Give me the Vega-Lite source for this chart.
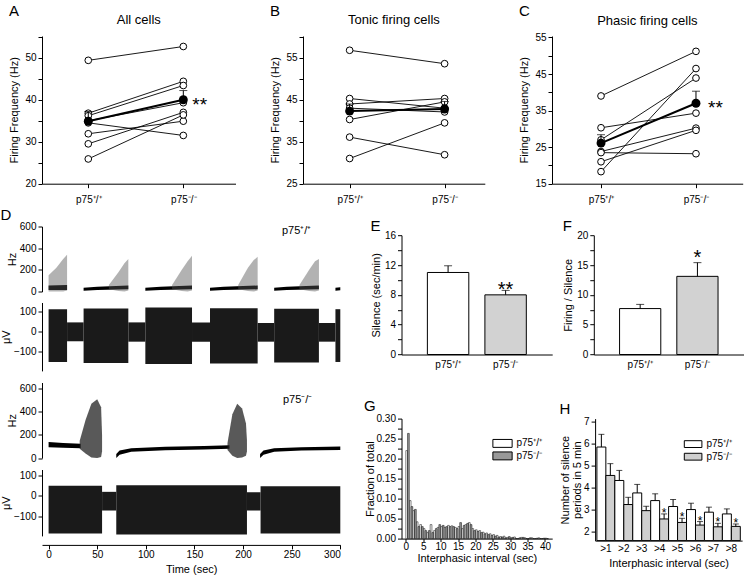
{
"$schema":"https://vega.github.io/schema/vega-lite/v6.json",
"background":"white",
"padding":{"left":0,"top":3,"right":0,"bottom":0},
"config":{
 "font":"Liberation Sans",
 "view":{"stroke":null},
 "axis":{"grid":false,"domainColor":"black","tickColor":"black","labelColor":"black","titleColor":"black","labelFontSize":10,"titleFontSize":11,"titleFontWeight":"normal","labelFontWeight":"normal","tickSize":4,"labelPadding":2,"titlePadding":5,"labelFont":"Liberation Sans","titleFont":"Liberation Sans","labelOverlap":false,"labelSeparation":0},
 "title":{"fontWeight":"normal","color":"black","font":"Liberation Sans"},
 "legend":{"labelFont":"Liberation Sans","labelColor":"black"},
 "text":{"font":"Liberation Sans","color":"black"}
},
"spacing":2.5,
"resolve":{"scale":{"fill":"independent"},"legend":{"fill":"independent"}},
"vconcat":[
{"spacing":33,"hconcat":[
 {"title":{"text":"A","anchor":"start","fontSize":15,"offset":-4.2},
  "vconcat":[{
   "title":{"text":"All cells","anchor":"middle","frame":"group","fontSize":13,"offset":4.5},
   "width":193.5,"height":147.7,
   "encoding":{"x":{"field":"g","type":"nominal","scale":{"type":"point","domain":["p75⁺/⁺","p75⁻/⁻"],"padding":0.518,"align":0.47},"axis":{"title":null,"labelAngle":0,"labelPadding":7,"labelFontSize":10}}},
   "layer":[
    {"data":{"values":[{"cell":1,"g":"p75⁺/⁺","v":49.4},{"cell":1,"g":"p75⁻/⁻","v":52.7},{"cell":2,"g":"p75⁺/⁺","v":36.8},{"cell":2,"g":"p75⁻/⁻","v":44.4},{"cell":3,"g":"p75⁺/⁺","v":36.2},{"cell":3,"g":"p75⁻/⁻","v":43.4},{"cell":4,"g":"p75⁺/⁺","v":35.0},{"cell":4,"g":"p75⁻/⁻","v":39.3},{"cell":5,"g":"p75⁺/⁺","v":34.5},{"cell":5,"g":"p75⁻/⁻","v":31.5},{"cell":6,"g":"p75⁺/⁺","v":31.9},{"cell":6,"g":"p75⁻/⁻","v":34.9},{"cell":7,"g":"p75⁺/⁺","v":29.5},{"cell":7,"g":"p75⁻/⁻","v":37.0},{"cell":8,"g":"p75⁺/⁺","v":25.9},{"cell":8,"g":"p75⁻/⁻","v":36.4}]},
     "layer":[
      {"mark":{"type":"line","color":"black","strokeWidth":0.9},"encoding":{"y":{"field":"v","type":"quantitative","scale":{"domain":[20,55.2],"nice":false,"zero":false},"axis":{"title":"Firing Frequency (Hz)","values":[20,25,30,35,40,45,50,55],"tickCount":100,"format":"d","labelExpr":"datum.value % 10 === 0 ? datum.label : ''"}},"detail":{"field":"cell"}}},
      {"mark":{"type":"point","shape":"circle","filled":true,"fill":"white","stroke":"black","strokeWidth":1,"size":45,"opacity":1},"encoding":{"y":{"field":"v","type":"quantitative","scale":{"domain":[20,55.2],"nice":false,"zero":false}}}}
     ]},
    {"data":{"values":[{"g":"p75⁺/⁺","v":34.9,"u":37.2,"s":""},{"g":"p75⁻/⁻","v":40.0,"u":42.2,"s":"**"}]},
     "layer":[
      {"mark":{"type":"line","color":"black","strokeWidth":2},"encoding":{"y":{"field":"v","type":"quantitative","scale":{"domain":[20,55.2],"nice":false,"zero":false}}}},
      {"mark":{"type":"rule","color":"black","strokeWidth":1},"encoding":{"y":{"field":"v","type":"quantitative","scale":{"domain":[20,55.2],"nice":false,"zero":false}},"y2":{"field":"u"}}},
      {"mark":{"type":"tick","color":"black","size":8,"thickness":1},"encoding":{"y":{"field":"u","type":"quantitative","scale":{"domain":[20,55.2],"nice":false,"zero":false}}}},
      {"mark":{"type":"point","shape":"circle","filled":true,"color":"black","size":80,"opacity":1},"encoding":{"y":{"field":"v","type":"quantitative","scale":{"domain":[20,55.2],"nice":false,"zero":false}}}},
      {"mark":{"type":"text","align":"left","baseline":"alphabetic","dx":9,"dy":11,"fontSize":19},"encoding":{"y":{"field":"v","type":"quantitative","scale":{"domain":[20,55.2],"nice":false,"zero":false}},"text":{"field":"s"}}}
     ]}
   ]}]},
 {"title":{"text":"B","anchor":"start","fontSize":15,"offset":-4.2},
  "vconcat":[{
   "title":{"text":"Tonic firing cells","anchor":"middle","frame":"group","fontSize":13,"offset":4.5},
   "width":181.8,"height":147.7,
   "encoding":{"x":{"field":"g","type":"nominal","scale":{"type":"point","domain":["p75⁺/⁺","p75⁻/⁻"],"padding":0.457,"align":0.537},"axis":{"title":null,"labelAngle":0,"labelPadding":7,"labelFontSize":10}}},
   "layer":[
    {"data":{"values":[{"cell":1,"g":"p75⁺/⁺","v":56.8},{"cell":1,"g":"p75⁻/⁻","v":53.6},{"cell":2,"g":"p75⁺/⁺","v":45.3},{"cell":2,"g":"p75⁻/⁻","v":43.0},{"cell":3,"g":"p75⁺/⁺","v":44.0},{"cell":3,"g":"p75⁻/⁻","v":45.3},{"cell":4,"g":"p75⁺/⁺","v":43.0},{"cell":4,"g":"p75⁻/⁻","v":42.1},{"cell":5,"g":"p75⁺/⁺","v":40.3},{"cell":5,"g":"p75⁻/⁻","v":44.5},{"cell":6,"g":"p75⁺/⁺","v":36.1},{"cell":6,"g":"p75⁻/⁻","v":31.9},{"cell":7,"g":"p75⁺/⁺","v":31.0},{"cell":7,"g":"p75⁻/⁻","v":39.5}]},
     "layer":[
      {"mark":{"type":"line","color":"black","strokeWidth":0.9},"encoding":{"y":{"field":"v","type":"quantitative","scale":{"domain":[25,60.2],"nice":false,"zero":false},"axis":{"title":"Firing Frequency (Hz)","values":[25,30,35,40,45,50,55,60],"tickCount":100,"format":"d","labelExpr":"(datum.value - 25) % 10 === 0 ? datum.label : ''"}},"detail":{"field":"cell"}}},
      {"mark":{"type":"point","shape":"circle","filled":true,"fill":"white","stroke":"black","strokeWidth":1,"size":45,"opacity":1},"encoding":{"y":{"field":"v","type":"quantitative","scale":{"domain":[25,60.2],"nice":false,"zero":false}}}}
     ]},
    {"data":{"values":[{"g":"p75⁺/⁺","v":42.3,"u":44.0},{"g":"p75⁻/⁻","v":42.8,"u":44.6}]},
     "layer":[
      {"mark":{"type":"line","color":"black","strokeWidth":2},"encoding":{"y":{"field":"v","type":"quantitative","scale":{"domain":[25,60.2],"nice":false,"zero":false}}}},
      {"mark":{"type":"rule","color":"black","strokeWidth":1},"encoding":{"y":{"field":"v","type":"quantitative","scale":{"domain":[25,60.2],"nice":false,"zero":false}},"y2":{"field":"u"}}},
      {"mark":{"type":"tick","color":"black","size":8,"thickness":1},"encoding":{"y":{"field":"u","type":"quantitative","scale":{"domain":[25,60.2],"nice":false,"zero":false}}}},
      {"mark":{"type":"point","shape":"circle","filled":true,"color":"black","size":80,"opacity":1},"encoding":{"y":{"field":"v","type":"quantitative","scale":{"domain":[25,60.2],"nice":false,"zero":false}}}}
     ]}
   ]}]},
 {"title":{"text":"C","anchor":"start","fontSize":15,"offset":-4.2},
  "vconcat":[{
   "title":{"text":"Phasic firing cells","anchor":"middle","frame":"group","fontSize":13,"offset":4.5},
   "width":190.7,"height":147.7,
   "encoding":{"x":{"field":"g","type":"nominal","scale":{"type":"point","domain":["p75⁺/⁺","p75⁻/⁻"],"padding":0.504,"align":0.512},"axis":{"title":null,"labelAngle":0,"labelPadding":7,"labelFontSize":10}}},
   "layer":[
    {"data":{"values":[{"cell":1,"g":"p75⁺/⁺","v":39.0},{"cell":1,"g":"p75⁻/⁻","v":51.2},{"cell":2,"g":"p75⁺/⁺","v":18.3},{"cell":2,"g":"p75⁻/⁻","v":46.5},{"cell":3,"g":"p75⁺/⁺","v":27.0},{"cell":3,"g":"p75⁻/⁻","v":43.9},{"cell":4,"g":"p75⁺/⁺","v":30.3},{"cell":4,"g":"p75⁻/⁻","v":34.3},{"cell":5,"g":"p75⁺/⁺","v":23.8},{"cell":5,"g":"p75⁻/⁻","v":30.2},{"cell":6,"g":"p75⁺/⁺","v":21.0},{"cell":6,"g":"p75⁻/⁻","v":29.6},{"cell":7,"g":"p75⁺/⁺","v":23.5},{"cell":7,"g":"p75⁻/⁻","v":23.2}]},
     "layer":[
      {"mark":{"type":"line","color":"black","strokeWidth":0.9},"encoding":{"y":{"field":"v","type":"quantitative","scale":{"domain":[15,55.4],"nice":false,"zero":false},"axis":{"title":"Firing Frequency (Hz)","values":[15,20,25,30,35,40,45,50,55],"tickCount":100,"format":"d","labelExpr":"(datum.value - 15) % 10 === 0 ? datum.label : ''"}},"detail":{"field":"cell"}}},
      {"mark":{"type":"point","shape":"circle","filled":true,"fill":"white","stroke":"black","strokeWidth":1,"size":45,"opacity":1},"encoding":{"y":{"field":"v","type":"quantitative","scale":{"domain":[15,55.4],"nice":false,"zero":false}}}}
     ]},
    {"data":{"values":[{"g":"p75⁺/⁺","v":26.1,"u":28.4,"s":""},{"g":"p75⁻/⁻","v":37.0,"u":40.3,"s":"**"}]},
     "layer":[
      {"mark":{"type":"line","color":"black","strokeWidth":2},"encoding":{"y":{"field":"v","type":"quantitative","scale":{"domain":[15,55.4],"nice":false,"zero":false}}}},
      {"mark":{"type":"rule","color":"black","strokeWidth":1},"encoding":{"y":{"field":"v","type":"quantitative","scale":{"domain":[15,55.4],"nice":false,"zero":false}},"y2":{"field":"u"}}},
      {"mark":{"type":"tick","color":"black","size":8,"thickness":1},"encoding":{"y":{"field":"u","type":"quantitative","scale":{"domain":[15,55.4],"nice":false,"zero":false}}}},
      {"mark":{"type":"point","shape":"circle","filled":true,"color":"black","size":80,"opacity":1},"encoding":{"y":{"field":"v","type":"quantitative","scale":{"domain":[15,55.4],"nice":false,"zero":false}}}},
      {"mark":{"type":"text","align":"left","baseline":"alphabetic","dx":12,"dy":11,"fontSize":19},"encoding":{"y":{"field":"v","type":"quantitative","scale":{"domain":[15,55.4],"nice":false,"zero":false}},"text":{"field":"s"}}}
     ]}
   ]}]}
]},
{"spacing":22.5,"resolve":{"scale":{"fill":"independent"},"legend":{"fill":"independent"}},"hconcat":[
 {"title":{"text":"D","anchor":"start","fontSize":15,"offset":-1.7},
  "bounds":"flush","spacing":11,
  "vconcat":[
   {"width":298.3,"height":65,
    "layer":[
     {"data":{"values":[{"seg":1,"t":0,"lo":15,"hi":55},{"seg":1,"t":19,"lo":15,"hi":60},{"seg":2,"t":36,"lo":8,"hi":35},{"seg":2,"t":50,"lo":15,"hi":45},{"seg":2,"t":82,"lo":20,"hi":55},{"seg":3,"t":99.5,"lo":8,"hi":35},{"seg":3,"t":115,"lo":15,"hi":45},{"seg":3,"t":147.5,"lo":20,"hi":55},{"seg":4,"t":166,"lo":8,"hi":35},{"seg":4,"t":180,"lo":15,"hi":45},{"seg":4,"t":215,"lo":20,"hi":55},{"seg":5,"t":232,"lo":8,"hi":35},{"seg":5,"t":245,"lo":15,"hi":45},{"seg":5,"t":278,"lo":20,"hi":55},{"seg":6,"t":295,"lo":8,"hi":35},{"seg":6,"t":300,"lo":12,"hi":40}]},
      "mark":{"type":"area","color":"black","opacity":1},
      "encoding":{"x":{"field":"t","type":"quantitative","scale":{"domain":[-6.78,300],"nice":false,"zero":false},"axis":null},"y":{"field":"lo","type":"quantitative","scale":{"domain":[0,600],"nice":false},"axis":{"title":"Hz","values":[0,200,400,600],"tickCount":100,"format":"d","titlePadding":2}},"y2":{"field":"hi"},"detail":{"field":"seg"}}},
     {"data":{"values":[{"seg":1,"t":0,"lo":0,"hi":150},{"seg":1,"t":8,"lo":0,"hi":220},{"seg":1,"t":15,"lo":0,"hi":300},{"seg":1,"t":19,"lo":10,"hi":340},{"seg":2,"t":62,"lo":20,"hi":60},{"seg":2,"t":72,"lo":5,"hi":180},{"seg":2,"t":78,"lo":0,"hi":260},{"seg":2,"t":82,"lo":10,"hi":300},{"seg":3,"t":127,"lo":20,"hi":60},{"seg":3,"t":137,"lo":5,"hi":200},{"seg":3,"t":143,"lo":0,"hi":280},{"seg":3,"t":147.5,"lo":10,"hi":330},{"seg":4,"t":195,"lo":20,"hi":60},{"seg":4,"t":205,"lo":5,"hi":220},{"seg":4,"t":211,"lo":0,"hi":290},{"seg":4,"t":215,"lo":10,"hi":320},{"seg":5,"t":258,"lo":20,"hi":60},{"seg":5,"t":268,"lo":5,"hi":200},{"seg":5,"t":274,"lo":0,"hi":280},{"seg":5,"t":278,"lo":10,"hi":300}]},
      "mark":{"type":"area","color":"#555","opacity":0.45},
      "encoding":{"x":{"field":"t","type":"quantitative","scale":{"domain":[-6.78,300],"nice":false,"zero":false},"axis":null},"y":{"field":"lo","type":"quantitative","scale":{"domain":[0,600],"nice":false}},"y2":{"field":"hi"},"detail":{"field":"seg"}}},
     {"data":{"values":[{"t":240,"lo":557,"label":"p75⁺/⁺"}]},
      "mark":{"type":"text","align":"left","baseline":"middle","fontSize":11},
      "encoding":{"x":{"field":"t","type":"quantitative","scale":{"domain":[-6.78,300],"nice":false,"zero":false},"axis":null},"y":{"field":"lo","type":"quantitative","scale":{"domain":[0,600],"nice":false}},"text":{"field":"label"}}}
    ]},
   {"width":298.3,"height":68.4,
    "data":{"values":[{"t0":0,"t1":19,"lo":-150,"hi":110},{"t0":19,"t1":36,"lo":-48,"hi":45},{"t0":36,"t1":82,"lo":-155,"hi":113},{"t0":82,"t1":99.5,"lo":-50,"hi":45},{"t0":99.5,"t1":147.5,"lo":-160,"hi":118},{"t0":147.5,"t1":166,"lo":-50,"hi":45},{"t0":166,"t1":215,"lo":-158,"hi":115},{"t0":215,"t1":232,"lo":-50,"hi":42},{"t0":232,"t1":278,"lo":-152,"hi":112},{"t0":278,"t1":295,"lo":-50,"hi":42},{"t0":295,"t1":300,"lo":-150,"hi":110}]},
    "mark":{"type":"rect","color":"#1a1a1a"},
    "encoding":{"x":{"field":"t0","type":"quantitative","scale":{"domain":[-6.78,300],"nice":false,"zero":false},"axis":null},"x2":{"field":"t1"},"y":{"field":"lo","type":"quantitative","scale":{"domain":[-194,143],"nice":false,"zero":false},"axis":{"title":"μV","values":[-100,0,100],"tickCount":100,"format":"d","titlePadding":2}},"y2":{"field":"hi"}}},
   {"width":298.3,"height":75.6,
    "layer":[
     {"data":{"values":[{"seg":1,"t":0,"lo":95,"hi":140},{"seg":1,"t":15,"lo":90,"hi":130},{"seg":1,"t":33,"lo":85,"hi":125},{"seg":2,"t":69.6,"lo":0,"hi":35},{"seg":2,"t":73,"lo":30,"hi":65},{"seg":2,"t":85,"lo":55,"hi":85},{"seg":2,"t":120,"lo":68,"hi":98},{"seg":2,"t":160,"lo":75,"hi":105},{"seg":2,"t":186,"lo":80,"hi":112},{"seg":3,"t":217.5,"lo":0,"hi":35},{"seg":3,"t":221,"lo":30,"hi":65},{"seg":3,"t":232,"lo":55,"hi":85},{"seg":3,"t":260,"lo":65,"hi":95},{"seg":3,"t":300,"lo":70,"hi":100}]},
      "mark":{"type":"area","color":"black","opacity":1},
      "encoding":{"x":{"field":"t","type":"quantitative","scale":{"domain":[-6.78,300],"nice":false,"zero":false},"axis":null},"y":{"field":"lo","type":"quantitative","scale":{"domain":[0,654.5],"nice":false},"axis":{"title":"Hz","values":[0,200,400,600],"tickCount":100,"format":"d","titlePadding":2}},"y2":{"field":"hi"},"detail":{"field":"seg"}}},
     {"data":{"values":[{"seg":1,"t":32,"lo":80,"hi":150},{"seg":1,"t":38,"lo":40,"hi":330},{"seg":1,"t":44,"lo":5,"hi":470},{"seg":1,"t":50,"lo":0,"hi":510},{"seg":1,"t":54,"lo":10,"hi":440},{"seg":1,"t":55,"lo":60,"hi":200},{"seg":2,"t":184,"lo":70,"hi":130},{"seg":2,"t":189,"lo":20,"hi":380},{"seg":2,"t":194,"lo":0,"hi":470},{"seg":2,"t":199,"lo":5,"hi":430},{"seg":2,"t":203,"lo":20,"hi":300},{"seg":2,"t":204,"lo":60,"hi":150}]},
      "mark":{"type":"area","color":"#222","opacity":0.75},
      "encoding":{"x":{"field":"t","type":"quantitative","scale":{"domain":[-6.78,300],"nice":false,"zero":false},"axis":null},"y":{"field":"lo","type":"quantitative","scale":{"domain":[0,654.5],"nice":false}},"y2":{"field":"hi"},"detail":{"field":"seg"}}},
     {"data":{"values":[{"t":241,"lo":499,"label":"p75⁻/⁻"}]},
      "mark":{"type":"text","align":"left","baseline":"middle","fontSize":11},
      "encoding":{"x":{"field":"t","type":"quantitative","scale":{"domain":[-6.78,300],"nice":false,"zero":false},"axis":null},"y":{"field":"lo","type":"quantitative","scale":{"domain":[0,654.5],"nice":false}},"text":{"field":"label"}}}
    ]},
   {"width":298.3,"height":66.4,
    "data":{"values":[{"t0":0,"t1":55,"lo":-185,"hi":50},{"t0":55,"t1":69.6,"lo":-72,"hi":20},{"t0":69.6,"t1":204,"lo":-190,"hi":52},{"t0":204,"t1":218,"lo":-72,"hi":18},{"t0":218,"t1":300,"lo":-185,"hi":48}]},
    "mark":{"type":"rect","color":"#1a1a1a"},
    "encoding":{"x":{"field":"t0","type":"quantitative","scale":{"domain":[-6.78,300],"nice":false,"zero":false},"axis":{"title":"Time (sec)","values":[0,50,100,150,200,250,300],"tickCount":100,"format":"d","offset":9,"labelPadding":1,"titlePadding":3.5}},"x2":{"field":"t1"},"y":{"field":"lo","type":"quantitative","scale":{"domain":[-197,130],"nice":false,"zero":false},"axis":{"title":"μV","values":[-100,0,100],"tickCount":100,"format":"d","titlePadding":2}},"y2":{"field":"hi"}}}
  ]},
 {"spacing":-9.3,"resolve":{"scale":{"fill":"independent"},"legend":{"fill":"independent"}},"vconcat":[
  {"width":10,"height":1,"data":{"values":[{"k":1}]},"mark":{"type":"point","opacity":0,"size":0}},
  {"spacing":28.4,"resolve":{"scale":{"fill":"independent"},"legend":{"fill":"independent"}},"vconcat":[
  {"bounds":"flush","spacing":41.3,"resolve":{"scale":{"fill":"independent"},"legend":{"fill":"independent"}},"hconcat":[
   {"title":{"text":"E","anchor":"start","fontSize":15,"offset":-3.3},
    "width":150.7,"height":119.3,
    "data":{"values":[{"g":"p75⁺/⁺","v":11.0,"u":11.9,"s":""},{"g":"p75⁻/⁻","v":8.0,"u":8.6,"s":"**"}]},
    "encoding":{"x":{"field":"g","type":"nominal","scale":{"domain":["p75⁺/⁺","p75⁻/⁻"],"paddingInner":0.28,"paddingOuter":0.45},"axis":{"title":null,"labelAngle":0,"ticks":false,"tickSize":0,"labelPadding":5,"labelFontSize":10}}},
    "layer":[
     {"mark":{"type":"bar","stroke":"black","strokeWidth":1},"encoding":{"y":{"field":"v","type":"quantitative","scale":{"domain":[0,16],"nice":false},"axis":{"title":"Silence (sec/min)","values":[0,2,4,6,8,10,12,14,16],"tickCount":100,"format":"d","labelExpr":"datum.value % 4 === 0 ? datum.label : ''","titlePadding":3}},"fill":{"field":"g","type":"nominal","scale":{"domain":["p75⁺/⁺","p75⁻/⁻"],"range":["white","#d2d2d2"]},"legend":null}}},
     {"mark":{"type":"rule","color":"black"},"encoding":{"y":{"field":"v","type":"quantitative","scale":{"domain":[0,16],"nice":false}},"y2":{"field":"u"}}},
     {"mark":{"type":"tick","color":"black","size":8,"thickness":1},"encoding":{"y":{"field":"u","type":"quantitative","scale":{"domain":[0,16],"nice":false}}}},
     {"mark":{"type":"text","baseline":"alphabetic","dy":5.6,"fontSize":20},"encoding":{"y":{"field":"u","type":"quantitative","scale":{"domain":[0,16],"nice":false}},"text":{"field":"s"}}}
    ]},
   {"title":{"text":"F","anchor":"start","fontSize":15,"offset":-3.3},
    "width":150,"height":119.3,
    "data":{"values":[{"g":"p75⁺/⁺","v":7.7,"u":8.4,"s":""},{"g":"p75⁻/⁻","v":13.1,"u":15.4,"s":"*"}]},
    "encoding":{"x":{"field":"g","type":"nominal","scale":{"domain":["p75⁺/⁺","p75⁻/⁻"],"paddingInner":0.28,"paddingOuter":0.45},"axis":{"title":null,"labelAngle":0,"ticks":false,"tickSize":0,"labelPadding":5,"labelFontSize":10}}},
    "layer":[
     {"mark":{"type":"bar","stroke":"black","strokeWidth":1},"encoding":{"y":{"field":"v","type":"quantitative","scale":{"domain":[0,20],"nice":false},"axis":{"title":"Firing / Silence","values":[0,2.5,5,7.5,10,12.5,15,17.5,20],"tickCount":100,"format":"d","labelExpr":"datum.value % 5 === 0 ? datum.label : ''","titlePadding":3}},"fill":{"field":"g","type":"nominal","scale":{"domain":["p75⁺/⁺","p75⁻/⁻"],"range":["white","#d2d2d2"]},"legend":null}}},
     {"mark":{"type":"rule","color":"black"},"encoding":{"y":{"field":"v","type":"quantitative","scale":{"domain":[0,20],"nice":false}},"y2":{"field":"u"}}},
     {"mark":{"type":"tick","color":"black","size":8,"thickness":1},"encoding":{"y":{"field":"u","type":"quantitative","scale":{"domain":[0,20],"nice":false}}}},
     {"mark":{"type":"text","baseline":"alphabetic","dy":1,"fontSize":20},"encoding":{"y":{"field":"u","type":"quantitative","scale":{"domain":[0,20],"nice":false}},"text":{"field":"s"}}}
    ]}
  ]},
  {"bounds":"flush","spacing":42.6,"resolve":{"scale":{"fill":"independent"},"legend":{"fill":"independent"}},"hconcat":[
   {"title":{"text":"G","anchor":"start","fontSize":15,"offset":0},
    "width":150.7,"height":120,
    "data":{"values":[
{"lo":0,"hi":1,"g":"p75⁺/⁺","f":0.22},{"lo":1,"hi":2,"g":"p75⁺/⁺","f":0.095},{"lo":2,"hi":3,"g":"p75⁺/⁺","f":0.07},{"lo":3,"hi":4,"g":"p75⁺/⁺","f":0.042},{"lo":4,"hi":5,"g":"p75⁺/⁺","f":0.035},{"lo":5,"hi":6,"g":"p75⁺/⁺","f":0.025},{"lo":6,"hi":7,"g":"p75⁺/⁺","f":0.015},{"lo":7,"hi":8,"g":"p75⁺/⁺","f":0.035},{"lo":8,"hi":9,"g":"p75⁺/⁺","f":0.02},{"lo":9,"hi":10,"g":"p75⁺/⁺","f":0.028},{"lo":10,"hi":11,"g":"p75⁺/⁺","f":0.03},{"lo":11,"hi":12,"g":"p75⁺/⁺","f":0.028},{"lo":12,"hi":13,"g":"p75⁺/⁺","f":0.033},{"lo":13,"hi":14,"g":"p75⁺/⁺","f":0.032},{"lo":14,"hi":15,"g":"p75⁺/⁺","f":0.028},{"lo":15,"hi":16,"g":"p75⁺/⁺","f":0.03},{"lo":16,"hi":17,"g":"p75⁺/⁺","f":0.025},{"lo":17,"hi":18,"g":"p75⁺/⁺","f":0.035},{"lo":18,"hi":19,"g":"p75⁺/⁺","f":0.04},{"lo":19,"hi":20,"g":"p75⁺/⁺","f":0.025},{"lo":20,"hi":21,"g":"p75⁺/⁺","f":0.022},{"lo":21,"hi":22,"g":"p75⁺/⁺","f":0.02},{"lo":22,"hi":23,"g":"p75⁺/⁺","f":0.016},{"lo":23,"hi":24,"g":"p75⁺/⁺","f":0.014},{"lo":24,"hi":25,"g":"p75⁺/⁺","f":0.012},{"lo":25,"hi":26,"g":"p75⁺/⁺","f":0.01},{"lo":26,"hi":27,"g":"p75⁺/⁺","f":0.008},{"lo":27,"hi":28,"g":"p75⁺/⁺","f":0.005},{"lo":28,"hi":29,"g":"p75⁺/⁺","f":0.006},{"lo":29,"hi":30,"g":"p75⁺/⁺","f":0.003},{"lo":30,"hi":31,"g":"p75⁺/⁺","f":0.002},{"lo":31,"hi":32,"g":"p75⁺/⁺","f":0.004},{"lo":32,"hi":33,"g":"p75⁺/⁺","f":0},{"lo":33,"hi":34,"g":"p75⁺/⁺","f":0.003},{"lo":34,"hi":35,"g":"p75⁺/⁺","f":0.002},{"lo":35,"hi":36,"g":"p75⁺/⁺","f":0},{"lo":36,"hi":37,"g":"p75⁺/⁺","f":0.002},{"lo":37,"hi":38,"g":"p75⁺/⁺","f":0},{"lo":38,"hi":39,"g":"p75⁺/⁺","f":0.002},{"lo":39,"hi":40,"g":"p75⁺/⁺","f":0},{"lo":40,"hi":41,"g":"p75⁺/⁺","f":0.001},
{"lo":0,"hi":1,"g":"p75⁻/⁻","f":0.263},{"lo":1,"hi":2,"g":"p75⁻/⁻","f":0.08},{"lo":2,"hi":3,"g":"p75⁻/⁻","f":0.073},{"lo":3,"hi":4,"g":"p75⁻/⁻","f":0.03},{"lo":4,"hi":5,"g":"p75⁻/⁻","f":0.03},{"lo":5,"hi":6,"g":"p75⁻/⁻","f":0.02},{"lo":6,"hi":7,"g":"p75⁻/⁻","f":0.02},{"lo":7,"hi":8,"g":"p75⁻/⁻","f":0.015},{"lo":8,"hi":9,"g":"p75⁻/⁻","f":0.025},{"lo":9,"hi":10,"g":"p75⁻/⁻","f":0.035},{"lo":10,"hi":11,"g":"p75⁻/⁻","f":0.033},{"lo":11,"hi":12,"g":"p75⁻/⁻","f":0.03},{"lo":12,"hi":13,"g":"p75⁻/⁻","f":0.03},{"lo":13,"hi":14,"g":"p75⁻/⁻","f":0.03},{"lo":14,"hi":15,"g":"p75⁻/⁻","f":0.025},{"lo":15,"hi":16,"g":"p75⁻/⁻","f":0.04},{"lo":16,"hi":17,"g":"p75⁻/⁻","f":0.033},{"lo":17,"hi":18,"g":"p75⁻/⁻","f":0.038},{"lo":18,"hi":19,"g":"p75⁻/⁻","f":0.035},{"lo":19,"hi":20,"g":"p75⁻/⁻","f":0.02},{"lo":20,"hi":21,"g":"p75⁻/⁻","f":0.018},{"lo":21,"hi":22,"g":"p75⁻/⁻","f":0.015},{"lo":22,"hi":23,"g":"p75⁻/⁻","f":0.012},{"lo":23,"hi":24,"g":"p75⁻/⁻","f":0.01},{"lo":24,"hi":25,"g":"p75⁻/⁻","f":0.008},{"lo":25,"hi":26,"g":"p75⁻/⁻","f":0.006},{"lo":26,"hi":27,"g":"p75⁻/⁻","f":0.004},{"lo":27,"hi":28,"g":"p75⁻/⁻","f":0.004},{"lo":28,"hi":29,"g":"p75⁻/⁻","f":0.002},{"lo":29,"hi":30,"g":"p75⁻/⁻","f":0.005},{"lo":30,"hi":31,"g":"p75⁻/⁻","f":0.003},{"lo":31,"hi":32,"g":"p75⁻/⁻","f":0},{"lo":32,"hi":33,"g":"p75⁻/⁻","f":0.002},{"lo":33,"hi":34,"g":"p75⁻/⁻","f":0.003},{"lo":34,"hi":35,"g":"p75⁻/⁻","f":0},{"lo":35,"hi":36,"g":"p75⁻/⁻","f":0.002},{"lo":36,"hi":37,"g":"p75⁻/⁻","f":0},{"lo":37,"hi":38,"g":"p75⁻/⁻","f":0.001},{"lo":38,"hi":39,"g":"p75⁻/⁻","f":0},{"lo":39,"hi":40,"g":"p75⁻/⁻","f":0.001},{"lo":40,"hi":41,"g":"p75⁻/⁻","f":0}
    ]},
    "layer":[
     {"transform":[{"filter":"datum.g === 'p75⁺/⁺'"}],
      "mark":{"type":"bar","stroke":"black","strokeWidth":0.5,"x2Offset":-1.74},
      "encoding":{"x":{"field":"lo","type":"quantitative","scale":{"domain":[-1.24,42.07],"nice":false,"zero":false},"axis":{"title":"Interphasic interval (sec)","values":[0,5,10,15,20,25,30,35,40],"tickCount":100,"format":"d","tickSize":3,"labelPadding":0,"titlePadding":1}},"x2":{"field":"hi"},"y":{"field":"f","type":"quantitative","scale":{"domain":[0,0.3],"nice":false},"axis":{"title":"Fraction of total","titlePadding":1,"values":[0,0.025,0.05,0.075,0.1,0.125,0.15,0.175,0.2,0.225,0.25,0.275,0.3],"tickCount":100,"labelExpr":"round(datum.value*1000) % 50 === 0 ? format(datum.value, '.2f') : ''"}},"y2":{"datum":0},
       "fill":{"field":"g","type":"nominal","scale":{"domain":["p75⁺/⁺","p75⁻/⁻"],"range":["white","#999999"]},"legend":{"title":null,"orient":"none","legendX":95,"legendY":18.8,"symbolType":"M-1.75,-0.72H1.75V0.72H-1.75Z","symbolSize":121,"symbolStrokeColor":"black","symbolStrokeWidth":1,"labelFontSize":10,"rowPadding":0.5,"labelOffset":8,"padding":0}}}},
     {"transform":[{"filter":"datum.g === 'p75⁻/⁻'"}],
      "mark":{"type":"bar","stroke":"black","strokeWidth":0.5,"xOffset":1.74},
      "encoding":{"x":{"field":"lo","type":"quantitative","scale":{"domain":[-1.24,42.07],"nice":false,"zero":false}},"x2":{"field":"hi"},"y":{"field":"f","type":"quantitative","scale":{"domain":[0,0.3],"nice":false}},"y2":{"datum":0},
       "fill":{"field":"g","type":"nominal","scale":{"domain":["p75⁺/⁺","p75⁻/⁻"],"range":["white","#999999"]}}}}
    ]},
   {"title":{"text":"H","anchor":"start","fontSize":15,"offset":0},
    "width":147,"height":122,
    "data":{"values":[
{"c":">1","g":"p75⁺/⁺","v":5.85,"u":6.43,"s":""},{"c":">1","g":"p75⁻/⁻","v":4.55,"u":5.09,"s":""},
{"c":">2","g":"p75⁺/⁺","v":4.32,"u":4.78,"s":""},{"c":">2","g":"p75⁻/⁻","v":3.22,"u":3.55,"s":""},
{"c":">3","g":"p75⁺/⁺","v":3.75,"u":4.14,"s":""},{"c":">3","g":"p75⁻/⁻","v":2.94,"u":3.14,"s":""},
{"c":">4","g":"p75⁺/⁺","v":3.4,"u":3.71,"s":""},{"c":">4","g":"p75⁻/⁻","v":2.56,"u":2.79,"s":"*"},
{"c":">5","g":"p75⁺/⁺","v":3.13,"u":3.45,"s":""},{"c":">5","g":"p75⁻/⁻","v":2.4,"u":2.59,"s":"*"},
{"c":">6","g":"p75⁺/⁺","v":2.99,"u":3.28,"s":""},{"c":">6","g":"p75⁻/⁻","v":2.28,"u":2.44,"s":"*"},
{"c":">7","g":"p75⁺/⁺","v":2.87,"u":3.1,"s":""},{"c":">7","g":"p75⁻/⁻","v":2.2,"u":2.36,"s":"*"},
{"c":">8","g":"p75⁺/⁺","v":2.79,"u":3.02,"s":""},{"c":">8","g":"p75⁻/⁻","v":2.22,"u":2.33,"s":"*"}
    ]},
    "encoding":{"x":{"field":"c","type":"nominal","scale":{"domain":[">1",">2",">3",">4",">5",">6",">7",">8"],"paddingInner":0,"paddingOuter":0.1},"axis":{"title":"Interphasic interval (sec)","labelAngle":0,"ticks":false,"tickSize":0,"labelPadding":3,"titlePadding":4}},
     "xOffset":{"field":"g","type":"nominal","scale":{"domain":["p75⁺/⁺","p75⁻/⁻"]}}},
    "layer":[
     {"mark":{"type":"bar","stroke":"black","strokeWidth":1},"encoding":{"y":{"field":"v","type":"quantitative","scale":{"domain":[1.57,7.15],"nice":false,"zero":false},"axis":{"title":["Number of silence","periods in 5 min"],"values":[2,2.5,3,3.5,4,4.5,5,5.5,6,6.5,7],"tickCount":100,"format":"d","labelExpr":"datum.value % 1 === 0 ? datum.label : ''","titleFontSize":11,"titleLineHeight":12,"titlePadding":1}},"y2":{"datum":1.57},
      "fill":{"field":"g","type":"nominal","scale":{"domain":["p75⁺/⁺","p75⁻/⁻"],"range":["white","#cfcfcf"]},"legend":{"title":null,"orient":"none","legendX":92,"legendY":19.5,"symbolType":"M-1.6,-0.62H1.6V0.62H-1.6Z","symbolSize":121,"symbolStrokeColor":"black","symbolStrokeWidth":1,"labelFontSize":10,"rowPadding":0.6,"labelOffset":7.3,"padding":0}}}},
     {"mark":{"type":"rule","color":"black"},"encoding":{"y":{"field":"v","type":"quantitative","scale":{"domain":[1.57,7.15],"nice":false,"zero":false}},"y2":{"field":"u"}}},
     {"mark":{"type":"tick","color":"black","size":6,"thickness":1},"encoding":{"y":{"field":"u","type":"quantitative","scale":{"domain":[1.57,7.15],"nice":false,"zero":false}}}},
     {"mark":{"type":"text","baseline":"alphabetic","dy":3,"fontSize":12},"encoding":{"y":{"field":"u","type":"quantitative","scale":{"domain":[1.57,7.15],"nice":false,"zero":false}},"text":{"field":"s"}}}
    ]}
  ]}
  ]}
 ]}
]}
]
}
